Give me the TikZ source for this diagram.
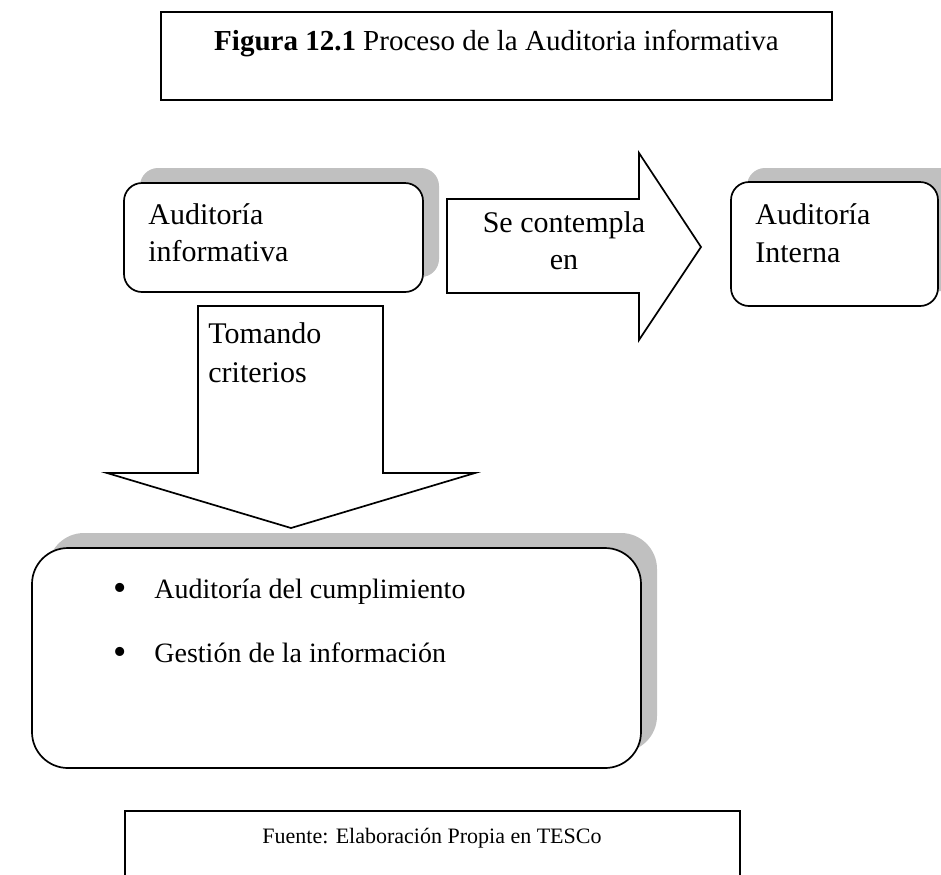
\documentclass[tikz,border=0pt]{standalone}
\usepackage{fontspec}
\setmainfont{Liberation Serif}
\definecolor{shadowgray}{RGB}{192,192,192}
\begin{document}
\begin{tikzpicture}[x=0.5pt,y=-0.5pt,
  line/.style={draw=black,line width=0.85pt},
  smallround/.style={rounded corners=9pt},
  biground/.style={rounded corners=18pt},
  txt/.style={inner sep=0pt,anchor=base west,font=\fontsize{15}{18}\selectfont},
  ctxt/.style={txt,anchor=base},
  bul/.style={ctxt,font=\fontsize{19}{20}\selectfont},
  itemtxt/.style={txt,font=\fontsize{14}{17}\selectfont},
]
\useasboundingbox (0,0) rectangle (941,874);
% title box
\draw[line] (161,12) rectangle (832,100);
\node[ctxt,font=\fontsize{14.5}{17}\selectfont] (title) at (496.5,50) {\textbf{Figura 12.1} Proceso de la Auditoria informativa};
% Auditoria informativa box
\fill[shadowgray,smallround] (140,168) rectangle (439,277);
\draw[line,fill=white,smallround] (124,183) rectangle (423,292);
\node[txt] (ai1) at (148,224) {Auditoría};
\node[txt] (ai2) at (148,261) {informativa};
% right block arrow
\draw[line,fill=white] (447,199) -- (639,199) -- (639,153) -- (701,247) -- (639,340) -- (639,293) -- (447,293) -- cycle;
\node[ctxt] (se1) at (564,232) {Se contempla};
\node[ctxt] (se2) at (564,269) {en};
% Auditoria Interna box
\fill[shadowgray,smallround] (747,168) rectangle (960,291);
\draw[line,fill=white,smallround] (731,182) rectangle (938,306);
\node[txt] (in1) at (755,224) {Auditoría};
\node[txt] (in2) at (755,262) {Interna};
% down block arrow
\draw[line,fill=white] (198,306) -- (383,306) -- (383,473) -- (475,473) -- (291,528) -- (107,473) -- (198,473) -- cycle;
\node[txt] (tc1) at (208,343) {Tomando};
\node[txt] (tc2) at (208,382) {criterios};
% bottom box
\fill[shadowgray,biground] (48,533) rectangle (657,752);
\draw[line,fill=white,biground] (32,548) rectangle (641,768);
\node[bul] (b1) at (120,600) {•};
\node[itemtxt] (l1) at (154,598) {Auditoría del cumplimiento};
\node[bul] (b2) at (120,664) {•};
\node[itemtxt] (l2) at (154,662) {Gestión de la información};
% source box
\draw[line] (125,880) -- (125,811) -- (740,811) -- (740,880);
\node[ctxt,font=\fontsize{11}{13}\selectfont] (src) at (432,843) {Fuente: Elaboración Propia en TESCo};
\end{tikzpicture}
\end{document}
